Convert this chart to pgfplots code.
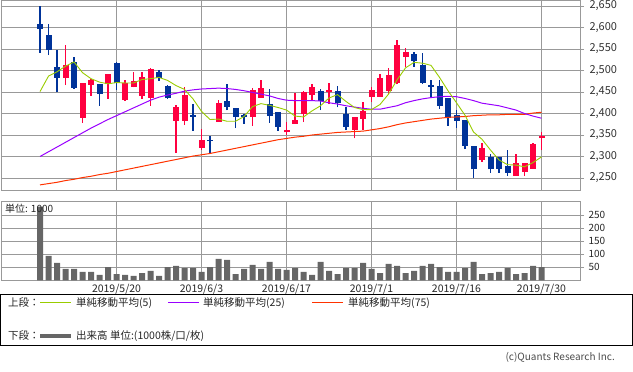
\documentclass[border=0pt]{standalone}
\usepackage{pgfplots}
\pgfplotsset{compat=1.18}
\usepackage{pgfplotstable}
\usepackage{fontspec}
\setmainfont{Noto Sans CJK JP}
\definecolor{upc}{HTML}{FF0040}
\definecolor{dnc}{HTML}{003399}
\definecolor{ma5c}{HTML}{99CC00}
\definecolor{ma25c}{HTML}{9900FF}
\definecolor{ma75c}{HTML}{FF3300}
\definecolor{volc}{HTML}{666666}
\definecolor{gridc}{HTML}{999999}

% up candles (close > open)
\pgfplotstableread{
i o h l c
3 2483 2559 2466 2512
5 2390 2471 2379 2471
6 2467 2480 2441 2478
8 2468 2492 2434 2492
10 2431 2478 2430 2470
11 2462 2497 2461 2476
12 2441 2497 2434 2485
13 2437 2505 2418 2504
16 2383 2419 2309 2416
17 2383 2462 2373 2443
19 2320 2364 2314 2338
21 2381 2431 2381 2424
25 2393 2459 2372 2454
26 2437 2478 2437 2459
29 2356 2380 2349 2362
30 2376 2448 2376 2385
31 2399 2453 2380 2451
32 2443 2469 2430 2461
34 2450 2471 2422 2455
37 2362 2393 2342 2392
38 2388 2427 2362 2406
39 2439 2461 2426 2454
40 2439 2492 2439 2483
41 2453 2506 2445 2490
42 2472 2571 2468 2559
43 2532 2552 2507 2543
52 2293 2331 2288 2320
56 2255 2306 2255 2284
57 2265 2286 2255 2284
58 2271 2331 2271 2329
59 2342 2357 2314 2347
}\upcandles

% down candles (close < open)
\pgfplotstableread{
i o h l c
0 2608 2651 2541 2597
1 2583 2608 2536 2548
2 2508 2548 2449 2483
4 2520 2531 2457 2460
7 2469 2469 2418 2446
9 2517 2519 2455 2471
14 2497 2501 2476 2483
15 2464 2466 2434 2435
18 2396 2422 2360 2392
20 2339 2348 2306 2335
22 2429 2469 2407 2416
23 2413 2413 2366 2393
24 2396 2400 2376 2392
27 2421 2457 2379 2395
28 2403 2403 2360 2369
33 2453 2457 2408 2430
35 2453 2464 2414 2424
36 2399 2416 2362 2369
44 2538 2542 2509 2522
45 2513 2541 2469 2472
46 2466 2478 2438 2462
47 2464 2478 2411 2418
48 2436 2436 2372 2389
49 2396 2408 2366 2383
50 2385 2385 2317 2325
51 2324 2324 2251 2270
53 2298 2306 2262 2270
54 2300 2300 2262 2272
55 2278 2315 2255 2262
}\dncandles

\pgfplotstableread{
i vol ma5 ma25 ma75
0 283 2451 2300 2234
1 94 2487 2311 2237
2 67 2497 2322 2240
3 44 2510 2333 2244
4 44 2520 2344 2247
5 32 2495 2355 2251
6 32 2481 2366 2254
7 21 2473 2376 2258
8 51 2469 2386 2261
9 24 2472 2395 2265
10 21 2471 2404 2269
11 17 2471 2413 2273
12 28 2479 2422 2277
13 36 2481 2431 2281
14 17 2484 2438 2285
15 51 2477 2443 2289
16 55 2465 2447 2293
17 47 2456 2452 2297
18 47 2434 2455 2301
19 32 2405 2457 2304
20 51 2386 2458 2307
21 82 2387 2459 2311
22 78 2382 2458 2315
23 24 2382 2456 2319
24 44 2393 2453 2323
25 59 2416 2449 2327
26 44 2423 2445 2331
27 71 2419 2441 2335
28 44 2414 2435 2339
29 40 2408 2431 2342
30 47 2394 2430 2345
31 32 2392 2430 2347
32 21 2406 2430 2350
33 71 2418 2429 2352
34 36 2436 2425 2354
35 24 2444 2422 2356
36 47 2428 2418 2357
37 47 2414 2415 2358
38 67 2409 2412 2359
39 44 2409 2410 2362
40 28 2421 2410 2365
41 63 2445 2414 2369
42 55 2478 2418 2374
43 28 2506 2425 2378
44 36 2519 2430 2381
45 55 2517 2434 2384
46 63 2512 2437 2387
47 51 2484 2439 2389
48 32 2453 2440 2391
49 32 2425 2439 2392
50 47 2396 2435 2393
51 71 2357 2430 2395
52 24 2340 2424 2396
53 28 2315 2421 2397
54 32 2292 2418 2397
55 47 2281 2413 2398
56 24 2280 2408 2398
57 28 2276 2400 2398
58 55 2286 2394 2401
59 51 2299 2389 2403
}\series

\begin{document}
\begin{tikzpicture}[x=1pt,y=1pt]
\path[use as bounding box] (0,0) rectangle (633,372);
\pgfplotsset{
  panel/.style={
    scale only axis, width=579pt, xmin=-4.59, xmax=63.53,
    axis line style={gridc, line width=0.8pt},
    xtick={9,19,29,39,49,59},
    xmajorgrids, ymajorgrids,
    major grid style={gridc, line width=0.8pt},
    xtick style={draw=none},
    ytick style={gridc, line width=0.8pt},
    tick align=outside, major tick length=4pt,
    ytick pos=right, yticklabel pos=right,
    /pgf/number format/assume math mode=true,
    /pgf/number format/1000 sep={,},
    scaled y ticks=false,
    clip=true,
  },
  candle/.style 2 args={draw=none, mark=none, forget plot,
    error bars/.cd, y dir=plus, y explicit, error mark=none,
    error bar style={draw=#1, line width=#2}},
}
% ---------- price panel ----------
\begin{axis}[panel, at={(1pt,182pt)}, anchor=south west, height=190pt,
  ymin=2222.1, ymax=2664, ytick={2250,2300,...,2650},
  xticklabels={},
  yticklabel style={font=\fontsize{11}{13}\selectfont, text=black!80, xshift=2pt},
]
% wicks
\addplot[candle={upc}{1.1pt}]
  table[x=i, y=l, y error plus expr=\thisrow{h}-\thisrow{l}] {\upcandles};
\addplot[candle={dnc}{1.1pt}]
  table[x=i, y=l, y error plus expr=\thisrow{h}-\thisrow{l}] {\dncandles};
% bodies
\addplot[candle={upc}{6pt}]
  table[x=i, y=o, y error plus expr=\thisrow{c}-\thisrow{o}] {\upcandles};
\addplot[candle={dnc}{6pt}]
  table[x=i, y=c, y error plus expr=\thisrow{o}-\thisrow{c}] {\dncandles};
% moving averages
\addplot[ma75c, line width=1pt, mark=none] table[x=i, y=ma75] {\series};
\addplot[ma25c, line width=1pt, mark=none] table[x=i, y=ma25] {\series};
\addplot[ma5c, line width=0.9pt, mark=none] table[x=i, y=ma5] {\series};
\end{axis}
% ---------- volume panel ----------
\begin{axis}[panel, at={(1pt,91.7pt)}, anchor=south west, height=78.6pt,
  ymin=0, ymax=302, ytick={50,100,...,250},
  xticklabels={2019/5/20,2019/6/3,2019/6/17,2019/7/1,2019/7/16,2019/7/30},
  xticklabel style={font=\fontsize{10.5}{12}\selectfont, text=black!85, yshift=3.5pt},
  yticklabel style={font=\fontsize{10}{12}\selectfont, text=black!85, xshift=1pt},
]
\addplot[ybar, bar width=6pt, fill=volc, draw=none] table[x=i, y=vol] {\series};
\end{axis}
\node[anchor=west, font=\fontsize{10}{12}\selectfont, inner sep=0pt, text=black!85] at (5,163) {単位: 1000};
% ---------- legend ----------
\draw[black, line width=0.8pt] (0.4,27) rectangle (632.6,78);
\begin{scope}[every node/.style={anchor=west, inner sep=0pt, font=\fontsize{10.5}{12}\selectfont, text=black!85}]
\node at (8,69) {上段：};
\draw[ma5c, line width=1pt] (40,69) -- (71,69);
\node at (76,69) {単純移動平均(5)};
\draw[ma25c, line width=1pt] (168,69) -- (199,69);
\node at (203,69) {単純移動平均(25)};
\draw[ma75c, line width=1pt] (312,69) -- (343,69);
\node at (348,69) {単純移動平均(75)};
\node at (8,36) {下段：};
\draw[volc, line width=3.5pt] (40,36) -- (71,36);
\node at (76,36) {出来高 単位:(1000株/口/枚)};
\end{scope}
\node[anchor=east, inner sep=0pt, font=\fontsize{10}{12}\selectfont, text=black!70] at (615,15) {(c)Quants Research Inc.};
\end{tikzpicture}
\end{document}
